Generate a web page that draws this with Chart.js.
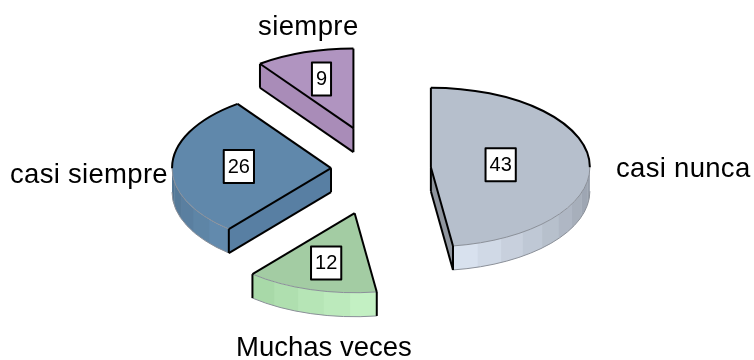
<!DOCTYPE html>
<html>
<head>
<meta charset="utf-8">
<style>
  html, body { margin: 0; padding: 0; background: #fff; }
  #wrap { width: 754px; height: 360px; }
</style>
<script src="https://cdn.jsdelivr.net/npm/chart.js@4"></script>
</head>
<body>
<div id="wrap"><canvas id="chart"></canvas></div>
<script>
const categories = ['casi nunca', 'Muchas veces', 'casi siempre', 'siempre'];
const values = [43, 12, 26, 9];
const explode = [51, 92, 49, 86];
const topColors = ['#b6bfcc', '#a3cca3', '#6088ab', '#b094c0'];
const bandColors = ['#8f959e', '#a3cca3', '#587fa3', '#a98cb8'];
// rim colour at both ends of the visible part, going clockwise
const rimStart = [[150, 158, 170], [195, 240, 195], [98, 138, 173], [176, 148, 192]];
const rimEnd = [[216, 225, 238], [168, 217, 168], [82, 116, 146], [176, 148, 192]];
const nameX = [616, 236, 10, 258];
const nameY = [169, 348, 175, 27];
const nameSpacing = [0.3, 0, 0.3, 0.4];
const labelFrac = [0.44, 0.65, 0.58, 0.65];

const SQUASH = 0.5;
const DEPTH = 24;

function geom(chart, i) {
    const el = chart.getDatasetMeta(0).data[i];
    const mid = (el.startAngle + el.endAngle) / 2;
    const x = el.x + Math.cos(mid) * explode[i];
    const y = el.y + Math.sin(mid) * explode[i] * SQUASH;
    return { el, mid, x, y, r: el.outerRadius, a0: el.startAngle, a1: el.endAngle };
}

function rimPt(g, a, dy) {
    return [g.x + Math.cos(a) * g.r, g.y + Math.sin(a) * g.r * SQUASH + (dy || 0)];
}

function poly(ctx, pts) {
    ctx.beginPath();
    pts.forEach((p, k) => k ? ctx.lineTo(p[0], p[1]) : ctx.moveTo(p[0], p[1]));
}

function line(ctx, a, b, dyA, dyB) {
    ctx.beginPath();
    ctx.moveTo(a[0], a[1] + (dyA || 0));
    ctx.lineTo(b[0], b[1] + (dyB || 0));
    ctx.stroke();
}

// which cut edge of the slice shows its side face, if any
function sideEdge(g) {
    if (Math.cos(g.a0) < -1e-6) return g.a0;
    if (Math.cos(g.a1) > 1e-6) return g.a1;
    return null;
}

const pie3d = {
    id: 'pie3d',
    beforeDatasetDraw(chart) {
        const ctx = chart.ctx;
        values.forEach((v, i) => {
            const g = geom(chart, i);
            const c = [g.x, g.y];
            const edge = sideEdge(g);
            if (edge !== null) {
                const p = rimPt(g, edge);
                ctx.fillStyle = bandColors[i];
                poly(ctx, [c, p, [p[0], p[1] + DEPTH], [c[0], c[1] + DEPTH]]);
                ctx.closePath();
                ctx.fill();
            }
            // outer rim, faceted
            const from = Math.max(g.a0, 0), to = Math.min(g.a1, Math.PI);
            if (to > from) {
                const n = Math.max(1, Math.round((to - from) / 0.16));
                const step = (to - from) / n;
                for (let k = 0; k < n; k++) {
                    const a = from + k * step;
                    const t = n > 1 ? k / (n - 1) : 0;
                    const rgb = rimStart[i].map((c0, j) => Math.round(c0 + (rimEnd[i][j] - c0) * t));
                    ctx.fillStyle = 'rgb(' + rgb.join(',') + ')';
                    const end = Math.min(a + step + 0.01, to);
                    ctx.beginPath();
                    ctx.ellipse(g.x, g.y, g.r, g.r * SQUASH, 0, a, end);
                    ctx.ellipse(g.x, g.y + DEPTH, g.r, g.r * SQUASH, 0, end, a, true);
                    ctx.closePath();
                    ctx.fill();
                }
                ctx.strokeStyle = '#8a8f98';
                ctx.lineWidth = 1;
                ctx.beginPath();
                ctx.ellipse(g.x, g.y + DEPTH, g.r, g.r * SQUASH, 0, from, to);
                ctx.stroke();
            }
            // top face: the library's own arc, moved out and squashed
            ctx.save();
            ctx.translate(g.x, g.y);
            ctx.scale(1, SQUASH);
            ctx.translate(-g.el.x, -g.el.y);
            g.el.draw(ctx);
            ctx.restore();
        });
        return false;
    },
    afterDatasetsDraw(chart) {
        const ctx = chart.ctx;
        ctx.lineJoin = 'round';
        values.forEach((v, i) => {
            const g = geom(chart, i);
            const c = [g.x, g.y];
            const p0 = rimPt(g, g.a0), p1 = rimPt(g, g.a1);
            // thin edge where the top meets the rim
            const from = Math.max(g.a0, 0), to = Math.min(g.a1, Math.PI);
            if (to > from) {
                ctx.strokeStyle = '#8a8f98';
                ctx.lineWidth = 1;
                ctx.beginPath();
                ctx.ellipse(g.x, g.y, g.r, g.r * SQUASH, 0, from, to);
                ctx.stroke();
            }
            ctx.strokeStyle = '#000';
            ctx.lineWidth = 2;
            // back part of the rim gets the heavy line
            if (g.a0 < 0) {
                ctx.beginPath();
                ctx.ellipse(g.x, g.y, g.r, g.r * SQUASH, 0, g.a0, Math.min(g.a1, 0));
                ctx.stroke();
            } else if (g.a1 > Math.PI) {
                ctx.beginPath();
                ctx.ellipse(g.x, g.y, g.r, g.r * SQUASH, 0, Math.max(g.a0, Math.PI), g.a1);
                ctx.stroke();
            }
            line(ctx, c, p0);
            line(ctx, c, p1);
            // vertical and lower edges of the side faces
            const edge = sideEdge(g);
            if (edge !== null) {
                const p = rimPt(g, edge);
                line(ctx, c, c, 0, DEPTH);
                line(ctx, p, p, 0, DEPTH);
                line(ctx, c, p, DEPTH, DEPTH);
            } else {
                line(ctx, p0, p0, 0, DEPTH);
                line(ctx, p1, p1, 0, DEPTH);
            }
            // value box
            const bx = g.x + Math.cos(g.mid) * g.r * labelFrac[i];
            const by = g.y + Math.sin(g.mid) * g.r * labelFrac[i] * SQUASH;
            const txt = String(v);
            ctx.font = '20px "Liberation Sans"';
            const w = ctx.measureText(txt).width + 8, h = 33;
            ctx.fillStyle = '#fff';
            ctx.fillRect(bx - w / 2, by - h / 2, w, h);
            ctx.lineWidth = 2;
            ctx.strokeStyle = '#000';
            ctx.strokeRect(bx - w / 2, by - h / 2, w, h);
            ctx.fillStyle = '#000';
            ctx.textAlign = 'center';
            ctx.textBaseline = 'middle';
            ctx.fillText(txt, bx, by + 1);
        });
        // category names
        ctx.font = '27.5px "Liberation Sans"';
        ctx.textAlign = 'left';
        ctx.textBaseline = 'middle';
        ctx.fillStyle = '#000';
        categories.forEach((name, i) => {
            ctx.letterSpacing = nameSpacing[i] + 'px';
            ctx.fillText(name, nameX[i], nameY[i]);
        });
        ctx.letterSpacing = '0px';
    }
};

new Chart(document.getElementById('chart'), {
    type: 'pie',
    data: {
        labels: categories,
        datasets: [{
            data: values,
            backgroundColor: topColors,
            borderWidth: 0,
            clip: false
        }]
    },
    options: {
        responsive: true,
        maintainAspectRatio: false,
        animation: false,
        radius: 159,
        layout: { padding: { left: 6, bottom: 22 } },
        plugins: { legend: { display: false }, tooltip: { enabled: false } }
    },
    plugins: [pie3d]
});
</script>
</body>
</html>
